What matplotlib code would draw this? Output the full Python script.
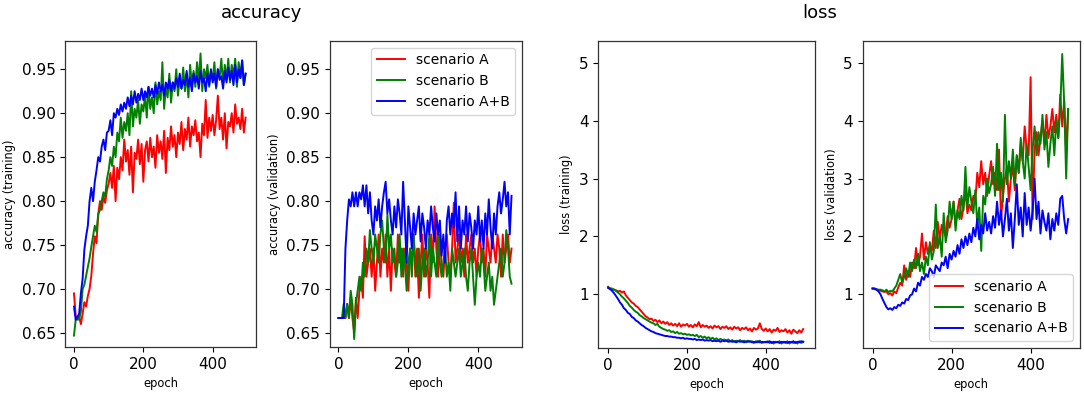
import numpy as np
import matplotlib
matplotlib.use("Agg")
import matplotlib.pyplot as plt

epochs = list(range(0, 500, 5))
labels = ["scenario A", "scenario B", "scenario A+B"]
colors = ["#ff0000", "#008000", "#0000ff"]

tr_acc_A = [0.695, 0.670, 0.665, 0.668, 0.660, 0.672, 0.685, 0.680, 0.692, 0.700,
            0.715, 0.740, 0.760, 0.752, 0.785, 0.800, 0.790, 0.805, 0.798, 0.812,
            0.820, 0.832, 0.815, 0.840, 0.800, 0.838, 0.825, 0.850, 0.835, 0.870,
            0.845, 0.858, 0.830, 0.862, 0.810, 0.855, 0.848, 0.870, 0.842, 0.865,
            0.822, 0.858, 0.868, 0.845, 0.872, 0.850, 0.862, 0.838, 0.875, 0.855,
            0.868, 0.848, 0.880, 0.832, 0.872, 0.858, 0.885, 0.862, 0.875, 0.850,
            0.878, 0.865, 0.890, 0.858, 0.882, 0.870, 0.895, 0.862, 0.885, 0.875,
            0.892, 0.868, 0.878, 0.850, 0.888, 0.875, 0.915, 0.872, 0.895, 0.880,
            0.898, 0.875, 0.892, 0.920, 0.882, 0.895, 0.870, 0.900, 0.860, 0.890,
            0.885, 0.900, 0.878, 0.910, 0.888, 0.895, 0.882, 0.905, 0.878, 0.895]
tr_acc_B = [0.647, 0.665, 0.668, 0.665, 0.675, 0.700, 0.705, 0.715, 0.725, 0.735,
            0.748, 0.760, 0.772, 0.765, 0.785, 0.790, 0.800, 0.810, 0.805, 0.825,
            0.835, 0.850, 0.840, 0.862, 0.850, 0.878, 0.868, 0.895, 0.872, 0.890,
            0.880, 0.900, 0.875, 0.925, 0.885, 0.905, 0.895, 0.915, 0.888, 0.910,
            0.902, 0.920, 0.895, 0.930, 0.905, 0.918, 0.900, 0.935, 0.910, 0.925,
            0.915, 0.958, 0.905, 0.930, 0.918, 0.945, 0.912, 0.935, 0.925, 0.950,
            0.920, 0.940, 0.928, 0.952, 0.925, 0.945, 0.918, 0.955, 0.932, 0.948,
            0.930, 0.958, 0.935, 0.968, 0.925, 0.950, 0.940, 0.955, 0.930, 0.948,
            0.938, 0.958, 0.928, 0.950, 0.940, 0.962, 0.932, 0.955, 0.938, 0.962,
            0.935, 0.955, 0.942, 0.962, 0.930, 0.958, 0.940, 0.960, 0.932, 0.945]
tr_acc_AB = [0.680, 0.665, 0.668, 0.672, 0.695, 0.712, 0.745, 0.760, 0.772, 0.800,
             0.815, 0.800, 0.822, 0.835, 0.850, 0.845, 0.862, 0.870, 0.858, 0.878,
             0.880, 0.892, 0.875, 0.900, 0.895, 0.905, 0.898, 0.910, 0.902, 0.912,
             0.905, 0.918, 0.908, 0.920, 0.910, 0.925, 0.912, 0.922, 0.915, 0.928,
             0.915, 0.925, 0.918, 0.930, 0.920, 0.928, 0.918, 0.932, 0.922, 0.935,
             0.925, 0.932, 0.920, 0.935, 0.928, 0.938, 0.925, 0.935, 0.928, 0.940,
             0.930, 0.945, 0.928, 0.938, 0.932, 0.948, 0.930, 0.940, 0.925, 0.945,
             0.935, 0.942, 0.928, 0.948, 0.935, 0.940, 0.925, 0.945, 0.932, 0.950,
             0.935, 0.945, 0.930, 0.950, 0.938, 0.942, 0.928, 0.948, 0.935, 0.952,
             0.938, 0.948, 0.932, 0.955, 0.935, 0.950, 0.940, 0.960, 0.932, 0.945]

va_acc_A = [0.667, 0.667, 0.667, 0.667, 0.667, 0.683, 0.667, 0.690, 0.667, 0.651,
            0.690, 0.667, 0.698, 0.714, 0.690, 0.760, 0.714, 0.730, 0.746, 0.714,
            0.746, 0.698, 0.730, 0.762, 0.714, 0.746, 0.730, 0.762, 0.714, 0.746,
            0.698, 0.746, 0.730, 0.714, 0.762, 0.730, 0.746, 0.714, 0.746, 0.730,
            0.698, 0.746, 0.730, 0.762, 0.714, 0.746, 0.690, 0.730, 0.762, 0.714,
            0.746, 0.730, 0.690, 0.762, 0.730, 0.794, 0.746, 0.714, 0.762, 0.730,
            0.714, 0.746, 0.762, 0.730, 0.714, 0.746, 0.798, 0.730, 0.746, 0.762,
            0.730, 0.746, 0.714, 0.762, 0.730, 0.746, 0.762, 0.730, 0.746, 0.714,
            0.746, 0.762, 0.730, 0.746, 0.714, 0.762, 0.746, 0.730, 0.762, 0.746,
            0.730, 0.762, 0.746, 0.714, 0.762, 0.730, 0.746, 0.762, 0.730, 0.746]
va_acc_B = [0.667, 0.667, 0.667, 0.683, 0.667, 0.683, 0.667, 0.698, 0.683, 0.643,
            0.683, 0.698, 0.714, 0.698, 0.730, 0.714, 0.746, 0.730, 0.767, 0.746,
            0.730, 0.762, 0.746, 0.730, 0.762, 0.778, 0.746, 0.730, 0.785, 0.746,
            0.762, 0.730, 0.746, 0.714, 0.730, 0.762, 0.714, 0.746, 0.730, 0.698,
            0.730, 0.746, 0.714, 0.762, 0.730, 0.714, 0.746, 0.698, 0.730, 0.746,
            0.714, 0.730, 0.762, 0.714, 0.746, 0.730, 0.714, 0.762, 0.730, 0.714,
            0.730, 0.746, 0.714, 0.730, 0.698, 0.746, 0.730, 0.714, 0.730, 0.746,
            0.714, 0.730, 0.746, 0.714, 0.698, 0.730, 0.746, 0.714, 0.682, 0.714,
            0.730, 0.714, 0.746, 0.730, 0.698, 0.714, 0.730, 0.698, 0.714, 0.682,
            0.698, 0.714, 0.730, 0.746, 0.714, 0.730, 0.767, 0.746, 0.714, 0.706]
va_acc_AB = [0.667, 0.667, 0.667, 0.667, 0.746, 0.778, 0.802, 0.794, 0.810, 0.794,
             0.810, 0.794, 0.810, 0.802, 0.818, 0.794, 0.818, 0.786, 0.810, 0.778,
             0.762, 0.794, 0.778, 0.802, 0.770, 0.794, 0.810, 0.822, 0.786, 0.802,
             0.778, 0.762, 0.794, 0.770, 0.802, 0.786, 0.762, 0.822, 0.778, 0.730,
             0.794, 0.770, 0.746, 0.786, 0.762, 0.778, 0.794, 0.754, 0.786, 0.770,
             0.746, 0.778, 0.762, 0.794, 0.770, 0.754, 0.786, 0.762, 0.778, 0.738,
             0.762, 0.730, 0.778, 0.794, 0.762, 0.786, 0.770, 0.810, 0.754, 0.794,
             0.746, 0.778, 0.762, 0.794, 0.754, 0.786, 0.770, 0.746, 0.778, 0.762,
             0.794, 0.754, 0.778, 0.746, 0.786, 0.762, 0.802, 0.770, 0.746, 0.786,
             0.762, 0.794, 0.810, 0.786, 0.802, 0.822, 0.794, 0.810, 0.762, 0.806]

tr_loss_A = [1.13, 1.10, 1.09, 1.08, 1.07, 1.05, 1.06, 1.03, 1.05, 0.98,
             0.94, 0.90, 0.86, 0.84, 0.80, 0.78, 0.74, 0.70, 0.66, 0.62,
             0.60, 0.57, 0.58, 0.54, 0.56, 0.52, 0.55, 0.50, 0.53, 0.49,
             0.52, 0.47, 0.50, 0.46, 0.49, 0.45, 0.50, 0.44, 0.48, 0.46,
             0.49, 0.44, 0.47, 0.43, 0.48, 0.45, 0.52, 0.43, 0.47, 0.44,
             0.46, 0.42, 0.45, 0.41, 0.46, 0.43, 0.45, 0.40, 0.44, 0.42,
             0.45, 0.40, 0.43, 0.39, 0.44, 0.41, 0.43, 0.38, 0.42, 0.40,
             0.43, 0.38, 0.41, 0.36, 0.42, 0.39, 0.41, 0.50, 0.40, 0.37,
             0.41, 0.36, 0.40, 0.34, 0.39, 0.37, 0.42, 0.35, 0.38, 0.36,
             0.40, 0.34, 0.38, 0.32, 0.39, 0.36, 0.33, 0.38, 0.34, 0.40]
tr_loss_B = [1.12, 1.10, 1.10, 1.08, 1.06, 1.03, 1.00, 0.96, 0.93, 0.89,
             0.85, 0.80, 0.77, 0.73, 0.70, 0.68, 0.64, 0.62, 0.59, 0.57,
             0.55, 0.53, 0.51, 0.50, 0.47, 0.49, 0.44, 0.42, 0.40, 0.39,
             0.37, 0.38, 0.35, 0.36, 0.33, 0.35, 0.32, 0.33, 0.31, 0.32,
             0.30, 0.31, 0.29, 0.30, 0.28, 0.30, 0.26, 0.28, 0.25, 0.27,
             0.24, 0.26, 0.23, 0.25, 0.22, 0.24, 0.21, 0.23, 0.21, 0.22,
             0.20, 0.22, 0.19, 0.21, 0.18, 0.20, 0.19, 0.21, 0.18, 0.20,
             0.17, 0.20, 0.18, 0.19, 0.16, 0.19, 0.17, 0.20, 0.16, 0.18,
             0.17, 0.19, 0.16, 0.18, 0.15, 0.18, 0.17, 0.19, 0.15, 0.18,
             0.16, 0.19, 0.15, 0.18, 0.16, 0.18, 0.15, 0.19, 0.16, 0.18]
tr_loss_AB = [1.11, 1.09, 1.06, 1.02, 0.97, 0.92, 0.86, 0.82, 0.76, 0.73,
              0.68, 0.66, 0.61, 0.59, 0.55, 0.53, 0.50, 0.47, 0.45, 0.42,
              0.40, 0.38, 0.36, 0.35, 0.33, 0.32, 0.31, 0.30, 0.29, 0.28,
              0.28, 0.27, 0.27, 0.26, 0.26, 0.25, 0.25, 0.24, 0.25, 0.23,
              0.24, 0.23, 0.23, 0.22, 0.23, 0.21, 0.22, 0.21, 0.22, 0.20,
              0.21, 0.20, 0.21, 0.19, 0.20, 0.19, 0.20, 0.18, 0.20, 0.19,
              0.20, 0.18, 0.19, 0.18, 0.19, 0.17, 0.19, 0.18, 0.19, 0.17,
              0.19, 0.18, 0.19, 0.17, 0.18, 0.17, 0.19, 0.17, 0.18, 0.17,
              0.18, 0.17, 0.19, 0.16, 0.18, 0.17, 0.18, 0.16, 0.18, 0.17,
              0.18, 0.16, 0.18, 0.17, 0.19, 0.16, 0.18, 0.17, 0.19, 0.18]

va_loss_A = [1.10, 1.09, 1.08, 1.07, 1.06, 1.05, 1.04, 1.05, 1.00, 1.02,
             0.98, 1.05, 1.02, 1.12, 1.20, 1.15, 1.50, 1.25, 1.40, 1.30,
             1.55, 1.45, 1.80, 1.50, 1.65, 2.05, 1.60, 1.90, 1.70, 1.85,
             1.75, 2.10, 1.80, 2.25, 1.95, 2.20, 2.10, 2.00, 2.35, 2.15,
             2.30, 2.60, 2.20, 2.45, 2.65, 2.30, 2.50, 2.80, 2.40, 2.55,
             2.45, 2.70, 2.60, 3.10, 2.85, 3.30, 2.90, 3.10, 2.70, 3.05,
             3.30, 2.90, 3.10, 2.80, 3.50, 2.30, 2.70, 3.00, 3.20, 2.60,
             3.00, 3.20, 2.80, 3.40, 3.10, 3.60, 3.30, 3.90, 3.50, 3.40,
             4.75, 2.30, 3.50, 3.80, 3.40, 3.70, 4.00, 3.60, 4.10, 3.70,
             3.90, 4.20, 3.80, 4.10, 3.70, 4.45, 3.90, 4.35, 3.45, 4.20]
va_loss_B = [1.10, 1.10, 1.09, 1.08, 1.08, 1.07, 1.05, 1.08, 1.04, 1.06,
             1.05, 1.10, 1.15, 1.25, 1.35, 1.20, 1.30, 1.45, 1.30, 1.55,
             1.40, 1.60, 1.45, 1.70, 1.40, 1.55, 1.35, 1.65, 1.50, 1.90,
             1.60, 1.75, 2.55, 1.80, 2.00, 1.65, 2.40, 1.90, 2.10, 2.60,
             2.30, 2.60, 2.10, 2.45, 2.30, 2.70, 2.45, 3.20, 2.50, 2.85,
             2.60, 2.40, 2.80, 2.20, 2.50, 1.75, 2.70, 2.55, 3.00, 2.75,
             2.90, 3.20, 2.70, 3.60, 2.80, 3.10, 2.60, 4.10, 2.90, 3.30,
             3.00, 3.50, 2.90, 3.40, 3.10, 3.70, 3.30, 3.00, 3.60, 3.20,
             2.80, 3.50, 3.90, 3.40, 3.80, 3.60, 4.10, 3.50, 3.80, 3.20,
             3.60, 3.90, 3.40, 4.00, 3.70, 4.20, 5.15, 4.30, 3.00, 4.20]
va_loss_AB = [1.10, 1.10, 1.08, 1.05, 1.00, 0.92, 0.85, 0.78, 0.74, 0.76,
              0.73, 0.78, 0.76, 0.82, 0.80, 0.86, 0.84, 0.92, 0.90, 0.98,
              1.00, 1.10, 1.05, 1.20, 1.15, 1.30, 1.25, 1.35, 1.30, 1.45,
              1.40, 1.30, 1.50, 1.45, 1.40, 1.55, 1.50, 1.65, 1.45, 1.70,
              1.60, 1.75, 1.65, 1.85, 1.70, 1.95, 1.80, 2.00, 1.85, 2.05,
              1.90, 2.15, 2.00, 2.30, 1.95, 2.20, 2.05, 2.40, 2.10, 2.25,
              2.05, 2.35, 2.15, 2.60, 2.20, 2.45, 2.00, 2.30, 2.65, 2.10,
              2.40, 1.80, 2.30, 2.90, 2.20, 2.50, 2.00, 2.75, 2.20, 2.50,
              2.10, 2.45, 3.00, 2.30, 2.60, 2.05, 2.45, 2.25, 2.10, 2.40,
              1.95, 2.30, 2.10, 2.40, 2.20, 2.65, 2.70, 2.30, 2.05, 2.30]

W, H = 1084, 393
fig = plt.figure(figsize=(W / 100, H / 100), dpi=100)


def px_axes(left, right, top, bottom):
    return fig.add_axes([left / W, 1 - bottom / H, (right - left) / W, (bottom - top) / H])


ax1 = px_axes(65.3, 256, 40.7, 347)
ax2 = px_axes(329.7, 522, 40.7, 347)
ax3 = px_axes(598.3, 815, 40.7, 348)
ax4 = px_axes(862.7, 1080, 40.7, 348)

panels = [
    (ax1, [tr_acc_A, tr_acc_B, tr_acc_AB], "accuracy (training)"),
    (ax2, [va_acc_A, va_acc_B, va_acc_AB], "accuracy (validation)"),
    (ax3, [tr_loss_A, tr_loss_B, tr_loss_AB], "loss (training)"),
    (ax4, [va_loss_A, va_loss_B, va_loss_AB], "loss (validation)"),
]

for ax, series, ylab in panels:
    for s, c, lab in zip(series, colors, labels):
        ax.plot(epochs, s, color=c, lw=1.4, label=lab)
    ax.set_xlim(-25, 525)
    ax.set_xticks([0, 200, 400])
    ax.set_xlabel("epoch", fontsize=8.3)
    ax.set_ylabel(ylab, fontsize=8.3)
    ax.tick_params(labelsize=11, length=3.5, width=0.8)
    for sp in ax.spines.values():
        sp.set_color("#333333")
        sp.set_linewidth(0.9)

for ax in (ax1, ax2):
    ax.set_ylim(0.634, 0.9825)
    ax.set_yticks([0.65, 0.70, 0.75, 0.80, 0.85, 0.90, 0.95])
    ax.set_yticklabels(["0.65", "0.70", "0.75", "0.80", "0.85", "0.90", "0.95"])
for ax in (ax3, ax4):
    ax.set_ylim(0.073, 5.38)
    ax.set_yticks([1, 2, 3, 4, 5])

ax2.legend(loc="upper right", fontsize=10)
ax4.legend(loc="lower right", fontsize=10)

fig.text(262 / W, 1 - 13 / H, "accuracy", fontsize=13, ha="center", va="center")
fig.text(820 / W, 1 - 13 / H, "loss", fontsize=13, ha="center", va="center")

fig.savefig("out.png", dpi=100)
